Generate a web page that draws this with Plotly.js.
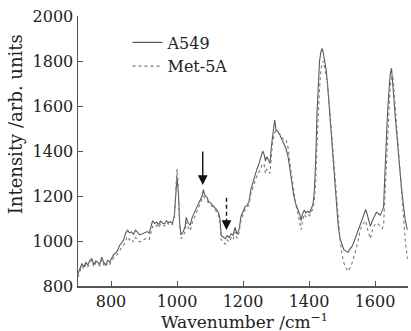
<!DOCTYPE html>
<html>
<head>
<meta charset="utf-8">
<script src="https://cdn.plot.ly/plotly-3.0.1.min.js"></script>
<style>html,body{margin:0;padding:0;background:#fff;}#chart{width:411px;height:331px;}</style>
</head>
<body>
<div id="chart"></div>
<script>
const wavenumber = [700,706,712,718,724,730,736,742,748,754,760,766,772,778,784,790,796,802,808,814,820,826,832,838,844,850,856,862,868,874,880,886,892,898,904,910,916,922,926,932,938,944,950,956,962,968,974,980,986,992,996,1000,1004,1008,1012,1018,1024,1028,1034,1040,1046,1052,1058,1064,1070,1076,1080,1084,1090,1096,1102,1108,1114,1120,1126,1130,1134,1140,1146,1152,1158,1164,1170,1176,1182,1188,1194,1200,1206,1212,1218,1224,1230,1236,1242,1248,1254,1260,1264,1268,1272,1278,1282,1286,1290,1296,1300,1306,1312,1318,1324,1330,1336,1342,1348,1354,1360,1366,1372,1376,1380,1386,1390,1396,1402,1406,1412,1416,1420,1424,1428,1432,1436,1440,1444,1448,1452,1456,1460,1466,1470,1476,1482,1488,1494,1500,1506,1512,1518,1524,1530,1536,1542,1548,1554,1560,1566,1572,1576,1580,1586,1592,1598,1604,1610,1616,1622,1626,1630,1634,1638,1642,1646,1650,1654,1658,1662,1668,1674,1680,1686,1692,1698];
const a549 = [855,880,900,886,905,893,915,922,895,912,904,898,928,905,893,914,906,922,940,946,958,980,990,1003,1034,1048,1036,1040,1030,1048,1040,1028,1030,1034,1038,1042,1035,1065,1090,1078,1084,1072,1088,1080,1076,1090,1082,1086,1078,1110,1200,1285,1220,1080,1028,1040,1060,1105,1080,1070,1105,1124,1145,1160,1178,1200,1228,1205,1195,1176,1168,1160,1150,1140,1125,1100,1025,1018,1010,1024,1015,1032,1025,1060,1030,1050,1110,1130,1152,1158,1175,1230,1262,1292,1318,1342,1370,1400,1385,1355,1375,1360,1345,1420,1480,1538,1495,1486,1470,1450,1430,1412,1380,1320,1260,1200,1165,1140,1118,1090,1120,1138,1125,1132,1126,1140,1162,1220,1340,1560,1700,1800,1840,1856,1830,1800,1760,1700,1620,1500,1420,1270,1160,1075,1010,985,960,955,950,965,975,995,1020,1045,1075,1090,1115,1140,1120,1095,1065,1090,1110,1128,1122,1115,1135,1150,1300,1450,1570,1660,1740,1768,1710,1620,1540,1430,1330,1240,1160,1090,1050];
const met5a = [840,870,890,875,898,885,905,915,885,905,895,890,918,895,885,904,896,912,925,930,945,960,970,980,1000,1020,1005,1010,995,1015,1008,995,1000,1005,1010,1015,1008,1040,1065,1060,1070,1058,1075,1070,1066,1082,1075,1080,1072,1115,1230,1320,1240,1070,1010,1020,1040,1085,1060,1045,1080,1100,1120,1140,1160,1180,1200,1190,1180,1165,1160,1152,1140,1130,1112,1085,1005,998,985,1005,995,1015,1005,1040,1012,1035,1095,1120,1140,1148,1162,1210,1240,1270,1290,1305,1330,1345,1340,1300,1320,1310,1300,1380,1440,1480,1490,1480,1475,1460,1448,1450,1420,1350,1280,1210,1160,1125,1085,1050,1090,1120,1108,1118,1112,1125,1145,1180,1260,1420,1560,1680,1760,1790,1800,1770,1740,1700,1640,1540,1450,1340,1230,1110,1010,940,900,880,865,880,900,930,960,995,1040,1070,1080,1090,1060,1040,1010,1050,1070,1080,1075,1065,1055,1070,1200,1360,1500,1610,1690,1725,1735,1660,1580,1460,1340,1220,1110,1000,920];
const seriesNames = ['A549', 'Met-5A'];
const xTicks = [800, 1000, 1200, 1400, 1600];
const yTicks = [800, 1000, 1200, 1400, 1600, 1800, 2000];

const FONT = 'DejaVu Serif, Liberation Serif, serif';
const traces = [
  {x: wavenumber, y: a549, name: seriesNames[0], mode: 'lines', type: 'scatter',
   line: {color: '#5a5a5a', width: 1.1}},
  {x: wavenumber, y: met5a, name: seriesNames[1], mode: 'lines', type: 'scatter',
   line: {color: '#7a7a7a', width: 1.1, dash: 'dot'}}
];
const layout = {
  width: 411, height: 331,
  margin: {l: 78, r: 3, t: 16, b: 45, pad: 0},
  paper_bgcolor: '#fff', plot_bgcolor: '#fff',
  font: {family: FONT, size: 16, color: '#222'},
  showlegend: true,
  legend: {x: 0.15, y: 0.965, xanchor: 'left', yanchor: 'top', bgcolor: 'rgba(0,0,0,0)',
           font: {family: FONT, size: 16, color: '#222'}, itemwidth: 30, tracegroupgap: 0},
  xaxis: {range: [700, 1700], tickvals: xTicks, ticktext: xTicks.map(String),
          ticks: 'inside', ticklen: 5, tickcolor: '#555', showline: true, linecolor: '#555', linewidth: 1.5,
          showgrid: false, zeroline: false, tickfont: {family: FONT, size: 16, color: '#222'}},
  yaxis: {range: [800, 2000], tickvals: yTicks, ticktext: yTicks.map(String),
          ticks: 'inside', ticklen: 5, tickcolor: '#555', showline: true, linecolor: '#555', linewidth: 1.5,
          showgrid: false, zeroline: false, tickfont: {family: FONT, size: 16, color: '#222'}},
  annotations: [
    {xref: 'paper', yref: 'paper', x: 0.505, y: -0.128, text: 'Wavenumber /cm<sup>−1</sup>',
     showarrow: false, font: {family: FONT, size: 17, color: '#222'}, xanchor: 'center', yanchor: 'middle'},
    {xref: 'paper', yref: 'paper', x: -0.19, y: 0.6, text: 'Intensity /arb. units', textangle: -90,
     showarrow: false, font: {family: FONT, size: 18, color: '#222'}, xanchor: 'center', yanchor: 'middle'},
    {x: 1078, y: 1249, ax: 1078, ay: 1405, axref: 'x', ayref: 'y', xref: 'x', yref: 'y', text: '',
     showarrow: true, arrowhead: 2, arrowsize: 1.4, arrowwidth: 1.4, arrowcolor: '#111'},
    {x: 1150, y: 1049, ax: 1150, ay: 1085, axref: 'x', ayref: 'y', xref: 'x', yref: 'y', text: '',
     showarrow: true, arrowhead: 2, arrowsize: 1.4, arrowwidth: 1.4, arrowcolor: '#111'}
  ],
  shapes: [
    {type: 'line', xref: 'x', yref: 'y', x0: 1150, x1: 1150, y0: 1192, y1: 1085,
     line: {color: '#111', width: 1.4, dash: '4px,3px'}}
  ]
};
Plotly.newPlot('chart', traces, layout, {displayModeBar: false, staticPlot: true});
</script>
</body>
</html>
